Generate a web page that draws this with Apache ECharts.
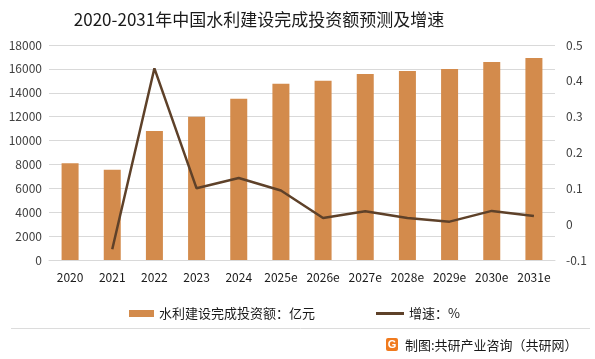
<!DOCTYPE html>
<html><head><meta charset="utf-8">
<script src="https://cdn.jsdelivr.net/npm/echarts@6/dist/echarts.min.js"></script>
<style>html,body{margin:0;padding:0;background:#fff}#c{width:595px;height:359px}</style>
</head><body><div id="c"></div>
<script>
const categories = ['2020','2021','2022','2023','2024','2025e','2026e','2027e','2028e','2029e','2030e','2031e'];
const investment = [8100, 7550, 10800, 12000, 13500, 14750, 15000, 15580, 15820, 16000, 16580, 16920];
const growth = [null, -0.07, 0.435, 0.10, 0.129, 0.094, 0.017, 0.036, 0.017, 0.007, 0.037, 0.023];
const leftTicks = {min: 0, max: 18000, interval: 2000};
const rightTicks = {min: -0.1, max: 0.5, interval: 0.1};
const titleText = '2020-2031年中国水利建设完成投资额预测及增速';
const barName = '水利建设完成投资额：亿元';
const lineName = '增速：%';
const footerText = '制图:共研产业咨询（共研网）';

const font = '"Noto Sans CJK SC", "Noto Sans", sans-serif';
const chart = echarts.init(document.getElementById('c'), null, {renderer: 'canvas'});
const legendText = {fontSize: 13, color: '#1a1a1a', fontFamily: font};
chart.setOption({
  animation: false,
  textStyle: {fontFamily: font},
  title: {text: titleText, left: 254, top: 6, textAlign: 'center',
    textStyle: {fontSize: 17, fontWeight: 'normal', color: '#1a1a1a', fontFamily: font}},
  legend: [
    {top: 302, left: 124, itemGap: 4, itemWidth: 25, itemHeight: 7, textStyle: legendText,
      data: [{name: barName, icon: 'rect'}]},
    {top: 302, left: 371, itemGap: 4, itemWidth: 28, itemHeight: 3, textStyle: legendText,
      data: [{name: lineName, icon: 'rect', itemStyle: {color: '#5e4129'}}]}
  ],
  grid: {left: 49, right: 40, top: 45, bottom: 99, containLabel: false},
  xAxis: {type: 'category', data: categories,
    axisLine: {lineStyle: {color: '#d9d9d9'}}, axisTick: {show: false},
    axisLabel: {color: '#1a1a1a', fontSize: 12, margin: 11, interval: 0, fontFamily: font}},
  yAxis: [
    {type: 'value', min: leftTicks.min, max: leftTicks.max, interval: leftTicks.interval,
      axisLine: {show: false}, axisTick: {show: false},
      splitLine: {lineStyle: {color: '#d9d9d9'}},
      axisLabel: {color: '#404040', fontSize: 12, margin: 7, fontFamily: font,
        formatter: v => String(v)}},
    {type: 'value', min: rightTicks.min, max: rightTicks.max, interval: rightTicks.interval,
      axisLine: {show: false}, axisTick: {show: false}, splitLine: {show: false},
      axisLabel: {color: '#404040', fontSize: 12, margin: 11, fontFamily: font,
        formatter: v => String(Math.round(v * 10) / 10)}}
  ],
  series: [
    {name: barName, type: 'bar', data: investment, barWidth: 17,
      itemStyle: {color: '#d38b4c'}},
    {name: lineName, type: 'line', yAxisIndex: 1, data: growth, symbol: 'none',
      lineStyle: {color: '#5e4129', width: 2.5}, itemStyle: {color: '#5e4129'}}
  ],
  graphic: [
    {type: 'line', shape: {x1: 11, y1: 328.5, x2: 590, y2: 328.5}, style: {stroke: '#dcdcdc', lineWidth: 1}},
    {type: 'rect', shape: {x: 386, y: 338, width: 12, height: 13, r: 2}, style: {fill: '#f07a1e'}},
    {type: 'text', style: {x: 392, y: 344.5, text: 'G', fill: '#fff', font: 'bold 11px sans-serif', align: 'center', verticalAlign: 'middle'}},
    {type: 'text', style: {x: 405, y: 345, text: footerText, fill: '#1a1a1a', font: '13px ' + font, verticalAlign: 'middle'}}
  ]
});
</script></body></html>
